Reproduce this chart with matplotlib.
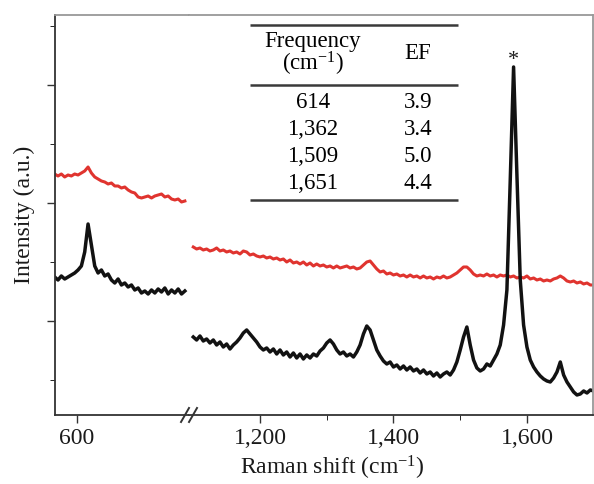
import numpy as np
import matplotlib.pyplot as plt
from matplotlib.ticker import FixedLocator, FuncFormatter, NullFormatter

plt.rcParams['font.family'] = 'Liberation Serif'
plt.rcParams['mathtext.fontset'] = 'custom'
plt.rcParams['mathtext.rm'] = 'Liberation Serif'
plt.rcParams['mathtext.it'] = 'Liberation Serif:italic'

# Raman shift grids (cm-1) for the two parts of the broken axis
shift_low = np.arange(567, 763, 5)
shift_high = np.arange(1100, 1701, 5)

# red spectrum (a.u.)
red_low = [241, 239, 241, 238, 240, 239, 241, 240, 242, 244,
           248, 242, 238, 236, 234, 233, 231, 232, 229, 229,
           227, 228, 225, 223, 222, 218, 217, 218, 219, 217,
           219, 220, 221, 218, 219, 216, 215, 216, 213, 214]
red_high = [168, 166, 167, 165, 166, 164, 165, 167, 164, 165,
            163, 164, 162, 163, 161, 164, 163, 160, 161, 159,
            158, 159, 157, 158, 156, 157, 155, 156, 153, 155,
            152, 153, 151, 153, 150, 152, 149, 151, 149, 150,
            148, 149, 147, 149, 147, 148, 149, 147, 148, 146,
            147, 150, 153, 154, 150, 146, 143, 144, 141, 142,
            140, 141, 139, 140, 138, 140, 138, 139, 137, 139,
            137, 138, 136, 138, 137, 139, 137, 138, 140, 142,
            145, 148, 148, 145, 141, 139, 140, 139, 141, 139,
            140, 138, 140, 139, 140, 138, 139, 137, 138, 137,
            139, 136, 137, 135, 136, 134, 135, 134, 136, 137,
            139, 137, 134, 133, 134, 132, 133, 131, 132, 130,
            130]

# black spectrum (a.u.)
black_low = [138, 135, 139, 136, 138, 140, 142, 145, 149, 163,
             191, 170, 149, 142, 145, 139, 141, 135, 132, 136,
             130, 132, 128, 130, 125, 127, 122, 124, 121, 125,
             122, 126, 123, 127, 121, 125, 122, 126, 121, 124]
black_high = [78, 75, 79, 74, 76, 72, 75, 70, 73, 68,
              71, 66, 70, 73, 77, 82, 85, 81, 77, 73,
              68, 65, 67, 63, 66, 61, 65, 60, 63, 58,
              62, 57, 61, 56, 60, 57, 61, 59, 64, 67,
              72, 75, 71, 65, 61, 63, 59, 61, 58, 63,
              70, 81, 89, 85, 75, 65, 59, 54, 51, 53,
              48, 50, 46, 49, 45, 48, 44, 46, 42, 45,
              41, 43, 39, 42, 38, 41, 43, 40, 45, 53,
              65, 78, 88, 70, 55, 47, 44, 46, 51, 49,
              55, 61, 70, 90, 125, 235, 348, 240, 135, 90,
              68, 55, 48, 43, 39, 36, 34, 33, 37, 43,
              53, 40, 33, 28, 23, 20, 21, 24, 22, 25,
              24]

# inset table
table_freq = [614, 1362, 1509, 1651]
table_ef = [3.9, 3.4, 5.0, 4.4]

red = '#e0342f'
black = '#121212'
dark = '#333333'
light = '#999999'

fig = plt.figure(figsize=(5.94, 4.84), dpi=100)
ax1 = fig.add_axes([0.0926, 0.1426, 0.2256, 0.8264])
ax2 = fig.add_axes([0.3182, 0.1426, 0.6801, 0.8264])

for ax, x, r, b in [(ax1, shift_low, red_low, black_low),
                    (ax2, shift_high, red_high, black_high)]:
    ax.plot(x, r, color=red, lw=2.2)
    ax.plot(x, b, color=black, lw=2.5)
    ax.set_ylim(0, 400)
    ax.spines['left'].set_color(dark)
    ax.spines['bottom'].set_color(dark)
    ax.spines['top'].set_color(light)
    ax.spines['right'].set_color(light)
    for s in ax.spines.values():
        s.set_linewidth(1.3)
    ax.tick_params(direction='out', labelsize=17, pad=4, colors=dark,
                   labelcolor='#1a1a1a', width=1.0)
    ax.tick_params(which='major', length=5.5)
    ax.tick_params(which='minor', length=3.5)

ax1.set_xlim(567.5, 768.2)
ax2.set_xlim(1093.6, 1699)
ax1.spines['right'].set_visible(False)
ax2.spines['left'].set_visible(False)

fmt = FuncFormatter(lambda v, p: f'{int(v):,}')
ax1.xaxis.set_major_locator(FixedLocator([600]))
ax1.xaxis.set_major_formatter(fmt)
ax2.xaxis.set_major_locator(FixedLocator([1200, 1400, 1600]))
ax2.xaxis.set_minor_locator(FixedLocator([1300, 1500]))
ax2.xaxis.set_major_formatter(fmt)
ax2.xaxis.set_minor_formatter(NullFormatter())

ax1.yaxis.set_major_locator(FixedLocator([94, 212, 330]))
ax1.yaxis.set_minor_locator(FixedLocator([35, 153, 271, 389]))
ax1.tick_params(axis='y', labelleft=False)
ax2.tick_params(axis='y', left=False, labelleft=False)

ax1.set_ylabel('Intensity (a.u.)', fontsize=17, color='#1a1a1a')
ax1.yaxis.set_label_coords(-0.15, 0.5)
fig.text(0.559, 0.033, r'Raman shift (cm$^{-1}$)', fontsize=17,
         ha='center', va='center', color='#1a1a1a')

# break marks on the bottom axis
for cx in (-0.0099, 0.0099):
    ax2.plot([cx - 4 / 404, cx + 4 / 404], [-7 / 400, 7 / 400],
             transform=ax2.transAxes, color=dark, lw=1.4, clip_on=False)

# star above the strongest peak
ipk = int(np.argmax(black_high))
ax2.annotate('*', xy=(shift_high[ipk], black_high[ipk]), xytext=(0, -2),
             textcoords='offset points', ha='center', va='bottom',
             fontsize=16, color='#1a1a1a')

# inset table
x0, x1 = 0.151, 0.666
for yy in (0.975, 0.825, 0.5375):
    ax2.plot([x0, x1], [yy, yy], transform=ax2.transAxes, color='#3a3a3a',
             lw=1.8, solid_capstyle='butt')
ax2.text(0.307, 0.935, 'Frequency', transform=ax2.transAxes, ha='center',
         va='center', fontsize=16.5)
ax2.text(0.307, 0.877, r'(cm$^{-1}$)', transform=ax2.transAxes, ha='center',
         va='center', fontsize=16.5)
ax2.text(0.567, 0.905, 'EF', transform=ax2.transAxes, ha='center',
         va='center', fontsize=16.5)
for i, (f, e) in enumerate(zip(table_freq, table_ef)):
    yy = 0.78 - i * 0.0667
    ax2.text(0.307, yy, f'{f:,}', transform=ax2.transAxes, ha='center',
             va='center', fontsize=16.5)
    ax2.text(0.567, yy, f'{e:.1f}', transform=ax2.transAxes, ha='center',
             va='center', fontsize=16.5)

fig.savefig('out.png', dpi=100)
